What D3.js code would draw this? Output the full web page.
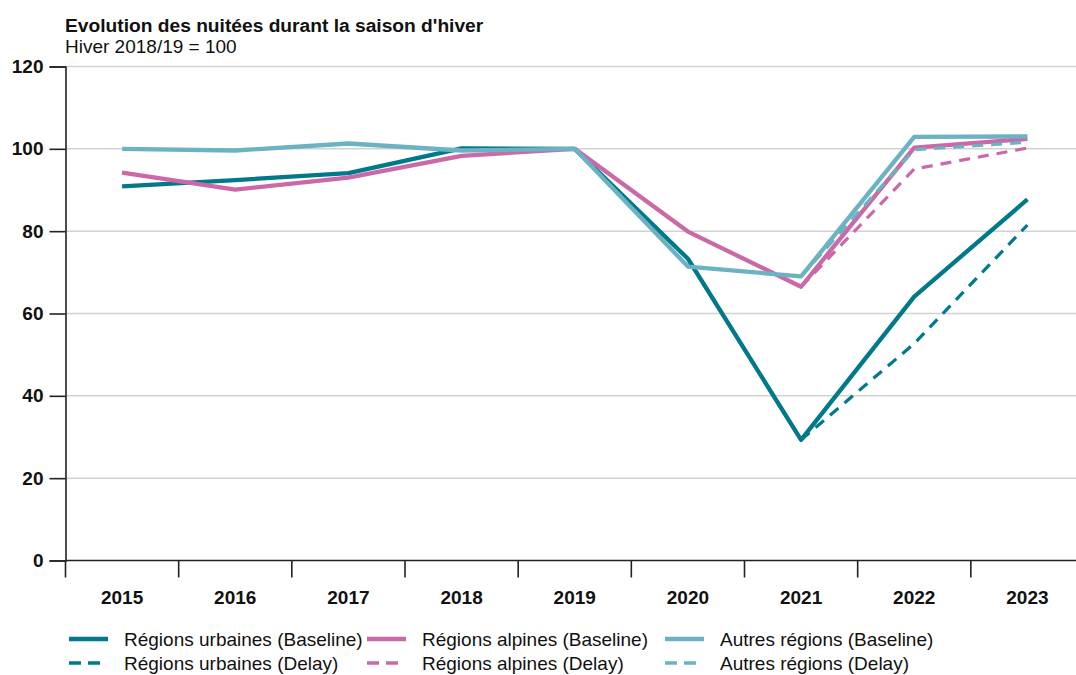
<!DOCTYPE html>
<html>
<head>
<meta charset="utf-8">
<script src="https://cdn.jsdelivr.net/npm/d3@7"></script>
<style>
  body { margin: 0; background: #fff; }
  svg { font-family: "Liberation Sans", Arial, sans-serif; }
</style>
</head>
<body>
<svg width="1076" height="675"></svg>
<script>
(function () {
  'use strict';

  // winter seasons, index 2018/19 = 100
  var years = ["2015", "2016", "2017", "2018", "2019", "2020", "2021", "2022", "2023"];
  var yTicks = [0, 20, 40, 60, 80, 100, 120];

  var urbainesBase  = [90.9, 92.4, 94.1, 100.1, 100, 73.3, 29.3, 64.1, 87.7];
  var alpinesBase   = [94.2, 90.1, 93.0, 98.3, 100, 79.9, 66.5, 100.3, 102.4];
  var autresBase    = [100, 99.6, 101.3, 99.6, 100, 71.4, 69.0, 102.9, 103.0];
  var urbainesDelay = [null, null, null, null, null, null, 29.3, 52.7, 81.5];
  var alpinesDelay  = [null, null, null, null, null, null, 66.5, 95.1, 100.2];
  var autresDelay   = [null, null, null, null, null, null, 69.0, 99.8, 101.6];

  var cUrb = "#00798b", cAlp = "#cb68a8", cAut = "#6bb2c3";

  var series = [
    { name: "Régions urbaines (Baseline)", values: urbainesBase,  color: cUrb, dash: null },
    { name: "Régions alpines (Baseline)",  values: alpinesBase,   color: cAlp, dash: null },
    { name: "Autres régions (Baseline)",   values: autresBase,    color: cAut, dash: null },
    { name: "Régions urbaines (Delay)",    values: urbainesDelay, color: cUrb, dash: "11,8" },
    { name: "Régions alpines (Delay)",     values: alpinesDelay,  color: cAlp, dash: "11,8" },
    { name: "Autres régions (Delay)",      values: autresDelay,   color: cAut, dash: "11,8" }
  ];

  var svg = d3.select("svg");
  var left = 65.5, right = 1084, top = 66.5, bottom = 560.5;
  var fs = 19;

  var x = d3.scaleBand().domain(years).range([left, right]);
  var y = d3.scaleLinear().domain([0, 120]).range([bottom, top]);

  // title
  svg.append("text").attr("x", 65).attr("y", 31.5)
      .attr("font-size", 19.2).attr("font-weight", "bold").attr("fill", "#111")
      .text("Evolution des nuitées durant la saison d'hiver");
  svg.append("text").attr("x", 65).attr("y", 53)
      .attr("font-size", fs).attr("fill", "#111")
      .text("Hiver 2018/19 = 100");

  // gridlines
  svg.append("g").selectAll("line")
    .data(yTicks.filter(function(d) { return d > 0; }))
    .enter().append("line")
      .attr("x1", left).attr("x2", right + 1)
      .attr("y1", function(d) { return y(d); })
      .attr("y2", function(d) { return y(d); })
      .attr("stroke", "#d2d2d2").attr("stroke-width", 1.5);

  // y axis
  var yAxis = svg.append("g")
      .attr("transform", "translate(" + left + ",0)")
      .call(d3.axisLeft(y).tickValues(yTicks).tickSize(16).tickPadding(6));
  yAxis.select(".domain").attr("stroke", "#222").attr("stroke-width", 1.6);
  yAxis.selectAll(".tick line").attr("stroke", "#222").attr("stroke-width", 1.6);
  yAxis.selectAll("text").attr("font-size", fs).attr("font-weight", "bold")
      .attr("fill", "#111").attr("font-family", "Liberation Sans, Arial, sans-serif");

  // x axis: ticks on band boundaries
  var xAxis = svg.append("g").attr("transform", "translate(0," + bottom + ")");
  xAxis.append("line").attr("x1", left).attr("x2", right)
      .attr("stroke", "#222").attr("stroke-width", 1.6);
  xAxis.selectAll(".xt")
    .data(years.slice(1).concat(["end"]))
    .enter().append("line")
      .attr("x1", function(d, i) { return x(years[0]) + x.step() * (i + 1); })
      .attr("x2", function(d, i) { return x(years[0]) + x.step() * (i + 1); })
      .attr("y1", 0).attr("y2", 17)
      .attr("stroke", "#222").attr("stroke-width", 1.6);
  xAxis.append("line").attr("x1", left).attr("x2", left).attr("y1", 0).attr("y2", 17)
      .attr("stroke", "#222").attr("stroke-width", 1.6);
  xAxis.selectAll(".xl")
    .data(years)
    .enter().append("text")
      .attr("x", function(d) { return x(d) + x.bandwidth() / 2; })
      .attr("y", 43)
      .attr("text-anchor", "middle")
      .attr("font-size", fs).attr("font-weight", "bold").attr("fill", "#111")
      .text(function(d) { return d; });

  // lines
  var line = d3.line()
      .defined(function(d) { return d != null; })
      .x(function(d, i) { return x(years[i]) + x.bandwidth() / 2; })
      .y(function(d) { return y(d); });

  svg.append("g").selectAll("path")
    .data(series)
    .enter().append("path")
      .attr("d", function(d) { return line(d.values); })
      .attr("fill", "none")
      .attr("stroke", function(d) { return d.color; })
      .attr("stroke-width", function(d) { return d.dash ? 3.2 : 4.3; })
      .attr("stroke-dasharray", function(d) { return d.dash; })
      .attr("stroke-linejoin", "round");

  // legend (3 columns x 2 rows)
  var colX = [69, 367, 665];
  var rowY = [639, 663];
  var leg = svg.append("g").selectAll("g")
    .data(series)
    .enter().append("g")
      .attr("transform", function(d, i) {
        return "translate(" + colX[i % 3] + "," + rowY[Math.floor(i / 3)] + ")";
      });
  leg.append("line")
      .attr("x1", 0).attr("x2", function(d) { return d.dash ? 32 : 39; })
      .attr("y1", 0).attr("y2", 0)
      .attr("stroke", function(d) { return d.color; })
      .attr("stroke-width", function(d) { return d.dash ? 3.5 : 4.5; })
      .attr("stroke-dasharray", function(d) { return d.dash ? "12,7" : null; });
  leg.append("text")
      .attr("x", 55).attr("y", 7)
      .attr("font-size", fs).attr("fill", "#111")
      .text(function(d) { return d.name; });
}());
</script>
</body>
</html>
